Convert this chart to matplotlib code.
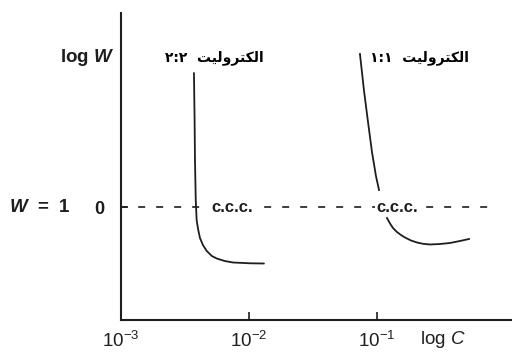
import numpy as np
import matplotlib
matplotlib.use("Agg")
import matplotlib.pyplot as plt

plt.rcParams['font.family'] = ['Liberation Sans', 'DejaVu Sans']
plt.rcParams['mathtext.fontset'] = 'custom'
plt.rcParams['mathtext.rm'] = 'Liberation Sans'
plt.rcParams['mathtext.it'] = 'Liberation Sans:italic'
plt.rcParams['mathtext.bf'] = 'Liberation Sans:bold'
plt.rcParams['mathtext.bfit'] = 'Liberation Sans:italic:bold'

# stability ratio curves, log C vs log W
logc_22 = [-2.430, -2.425, -2.422, -2.416, -2.409, -2.398, -2.383, -2.360,
           -2.330, -2.290, -2.252, -2.190, -2.125, -1.992, -1.883]
logw_22 = [1.34, 0.87, 0.47, 0.07, -0.13, -0.22, -0.31, -0.38,
           -0.44, -0.49, -0.515, -0.54, -0.555, -0.563, -0.565]

logc_11_top = [-1.133, -1.102, -1.070, -1.039, -1.008, -0.984]
logw_11_top = [1.53, 1.17, 0.85, 0.55, 0.31, 0.17]
logc_11_low = [-0.922, -0.898, -0.875, -0.844, -0.8125, -0.781, -0.734,
               -0.6875, -0.641, -0.586, -0.508, -0.430, -0.352, -0.281]
logw_11_low = [-0.11, -0.165, -0.21, -0.25, -0.28, -0.305, -0.335,
               -0.355, -0.368, -0.375, -0.37, -0.36, -0.34, -0.32]

# critical coagulation concentrations (log C)
ccc_logc = [-2.133, -0.844]

xticks = [1e-3, 1e-2, 1e-1]
xtick_labels = [r'$10^{-3}$', r'$10^{-2}$', r'$10^{-1}$']


def shape_word():
    # "الکترولیت" written out in presentation forms, left to right
    return ('\uFE96\uFEF4\uFEDF\uFEED\uFEAE\uFE98\uFEDC\uFEDF\uFE8D')


label_22 = '\u0662:\u0662  ' + shape_word()
label_11 = '\u0661:\u0661  ' + shape_word()

fig = plt.figure(figsize=(5.12, 3.53), dpi=100)
ax = fig.add_axes([121 / 512, 33 / 353, 391 / 512, 307 / 353])

col = '#1e1e1e'
ax.plot(10 ** np.array(logc_22), logw_22, color=col, lw=1.3, solid_capstyle='round')
ax.plot(10 ** np.array(logc_11_top), logw_11_top, color=col, lw=1.3)
ax.plot(10 ** np.array(logc_11_low), logw_11_low, color=col, lw=1.3)

ax.plot([1e-3, 10 ** -0.117], [0, 0], color=col, lw=1.2,
        linestyle=(0.5, (4.2, 6.6)))

for lc in ccc_logc:
    ax.text(10 ** lc, 0, 'c.c.c.', ha='center', va='center', fontsize=12,
            fontweight='bold', color=col, zorder=5,
            bbox=dict(facecolor='white', edgecolor='none', pad=1.0))

ax.text(10 ** -2.273, 1.49, label_22, ha='center', va='center', fontsize=10,
        fontweight='bold', family=['DejaVu Sans'], color='black')
ax.text(10 ** -0.664, 1.49, label_11, ha='center', va='center', fontsize=10,
        fontweight='bold', family=['DejaVu Sans'], color='black')

ax.set_xscale('log')
ax.set_xlim(1e-3, 10 ** 0.055)
ax.set_ylim(-1.13, 1.94)

ax.spines['top'].set_visible(False)
ax.spines['right'].set_visible(False)
for s in ('left', 'bottom'):
    ax.spines[s].set_linewidth(1.5)
    ax.spines[s].set_color(col)

ax.set_xticks(xticks)
ax.set_xticklabels(xtick_labels, fontsize=13.5)
ax.xaxis.set_minor_locator(matplotlib.ticker.NullLocator())
ax.tick_params(axis='x', direction='in', length=6, width=1.2, pad=8, colors=col)
ax.set_yticks([0])
ax.set_yticklabels(['0'], fontsize=13, fontweight='bold')
ax.tick_params(axis='y', direction='in', length=5, width=1.2, pad=12, colors=col)

fig.text(87 / 512, 1 - 58 / 353, r'log $\mathbfit{W}$', ha='center', va='center',
         fontsize=13.5, fontweight='bold', color=col)
fig.text(40 / 512, 1 - 207 / 353, r'$\mathbfit{W}$  =  1', ha='center', va='center',
         fontsize=13.5, fontweight='bold', color=col)
fig.text(443 / 512, 1 - 340 / 353, r'log $\mathit{C}$', ha='center', va='center',
         fontsize=13.5, color=col)

fig.savefig('out.png', dpi=100)
